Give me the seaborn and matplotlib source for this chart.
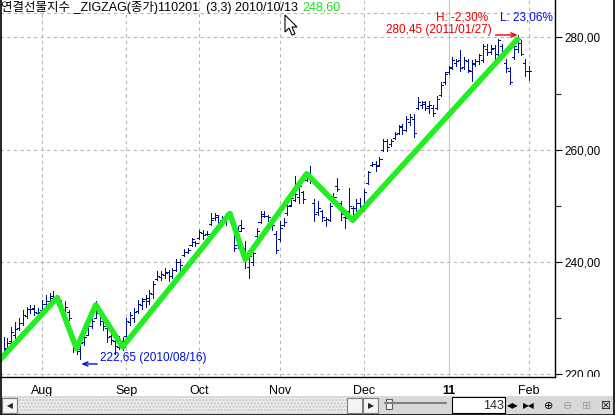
import numpy as np
import pandas as pd
import seaborn as sns
import matplotlib.pyplot as plt
from matplotlib.patches import Rectangle, Polygon
from matplotlib.lines import Line2D
from matplotlib.text import OffsetFrom
from matplotlib.transforms import Bbox, TransformedBbox, IdentityTransform

### daily OHLC bars (index 0 = 2010/07/19 ... 137 = 2011/02/01)
opens = [223.8, 224.6, 225.9, 227.0, 228.2, 229.0, 230.4, 231.6, 231.8, 230.8,
         231.4, 232.4, 233.0, 233.8, 232.8, 232.8, 231.3, 231.0, 226.0, 224.6,
         224.0, 225.6, 227.0, 228.6, 230.0, 230.8, 229.4, 228.2, 226.8, 225.8,
         224.8, 225.8, 226.8, 229.2, 230.0, 231.2, 232.2, 233.4, 233.0, 234.2,
         237.0, 237.2, 237.6, 238.2, 237.4, 238.6, 240.0, 241.2, 241.8, 243.0,
         243.5, 244.2, 245.2, 245.0, 246.8, 247.8, 248.0, 247.4, 247.2, 247.8,
         247.0, 243.0, 246.5, 242.5, 239.0, 240.0, 244.5, 247.0, 248.2, 248.2,
         247.5, 245.0, 244.0, 246.5, 248.6, 250.2, 251.0, 251.5, 252.4, 254.6,
         255.5, 250.5, 248.8, 249.0, 247.5, 247.5, 250.8, 253.5, 250.5, 248.0,
         249.0, 249.5, 249.5, 250.5, 249.5, 254.0, 257.3, 257.5, 257.3, 260.0,
         261.5, 261.0, 262.0, 263.0, 264.2, 263.5, 265.0, 265.5, 267.5, 268.0,
         268.5, 267.8, 267.5, 267.5, 269.8, 272.0, 273.8, 274.6, 275.5, 276.0,
         274.8, 275.8, 274.0, 275.3, 275.8, 276.0, 278.0, 277.5, 278.2, 277.0,
         278.5, 275.5, 274.0, 276.5, 278.0, 279.0, 275.5, 274.0]
highs = [226.6, 226.3, 228.4, 229.3, 229.9, 231.4, 232.0, 232.3, 232.3, 231.7,
         233.2, 234.1, 234.4, 234.7, 234.1, 233.2, 232.9, 231.4, 226.3, 225.7,
         226.9, 227.2, 229.3, 230.5, 232.9, 231.1, 229.9, 228.7, 227.5, 226.3,
         226.8, 226.5, 229.9, 231.1, 231.7, 233.2, 233.5, 234.0, 235.0, 236.6,
         238.3, 238.3, 238.9, 238.6, 238.9, 240.4, 240.4, 242.2, 242.5, 244.3,
         243.7, 245.7, 245.7, 245.4, 248.7, 248.7, 248.4, 248.1, 248.7, 248.9,
         247.2, 246.3, 247.5, 243.7, 241.3, 241.9, 246.0, 249.0, 249.0, 248.4,
         247.8, 245.4, 247.2, 247.8, 250.2, 251.7, 255.3, 254.1, 252.6, 255.9,
         257.1, 251.1, 250.8, 249.3, 248.0, 250.5, 252.3, 255.0, 250.8, 248.4,
         253.2, 250.0, 251.1, 251.4, 252.9, 256.2, 257.7, 258.0, 258.6, 261.9,
         261.9, 261.9, 263.1, 264.3, 264.6, 266.0, 266.4, 266.3, 269.3, 268.7,
         268.7, 268.7, 267.9, 269.6, 272.0, 273.8, 275.0, 276.5, 276.2, 277.7,
         276.5, 276.2, 275.9, 276.2, 277.1, 278.9, 278.9, 278.6, 278.6, 279.8,
         278.9, 276.2, 274.7, 278.9, 280.45, 279.5, 276.2, 275.0]
lows = [223.3, 224.2, 225.7, 226.3, 227.8, 228.7, 229.9, 230.8, 230.5, 230.2,
        231.1, 232.0, 232.6, 232.6, 232.3, 231.1, 230.8, 229.6, 223.9, 223.6,
        222.65, 225.1, 226.9, 228.1, 229.9, 228.7, 227.8, 225.7, 225.4, 223.6,
        224.5, 224.2, 226.6, 228.7, 229.3, 230.8, 231.5, 232.0, 232.5, 233.5,
        236.8, 236.8, 237.1, 236.5, 237.1, 238.3, 238.3, 241.0, 241.6, 242.8,
        242.8, 244.0, 244.0, 244.7, 246.6, 247.5, 246.3, 247.2, 246.6, 247.0,
        241.9, 242.5, 245.5, 238.9, 237.1, 239.5, 244.3, 246.9, 247.9, 247.3,
        245.7, 241.6, 243.7, 246.3, 248.4, 249.9, 250.8, 250.5, 250.5, 254.4,
        254.1, 247.2, 248.4, 247.2, 246.3, 247.2, 250.5, 252.6, 247.5, 246.0,
        248.7, 247.0, 249.0, 249.0, 249.0, 253.8, 257.1, 256.2, 257.1, 259.8,
        259.8, 260.7, 261.9, 262.8, 262.8, 263.3, 264.3, 262.2, 267.3, 267.5,
        267.0, 266.5, 266.0, 267.3, 269.6, 271.7, 273.5, 274.4, 275.0, 274.1,
        274.4, 273.8, 272.3, 275.0, 275.3, 275.6, 276.8, 277.0, 276.2, 275.6,
        276.8, 273.8, 271.7, 276.2, 277.4, 276.8, 273.2, 272.5]
closes = [224.5, 225.5, 227.5, 228.0, 229.0, 230.5, 231.5, 231.5, 231.0, 231.0,
          232.5, 233.0, 233.5, 233.2, 233.6, 231.5, 232.0, 230.0, 224.8, 224.5,
          225.5, 226.5, 228.5, 229.5, 232.3, 229.5, 228.5, 226.5, 226.0, 225.0,
          225.5, 224.8, 229.5, 230.5, 231.0, 232.5, 233.0, 233.5, 234.5, 236.0,
          237.5, 237.8, 238.0, 237.5, 238.5, 240.0, 239.5, 241.8, 242.0, 244.0,
          243.3, 245.3, 244.8, 245.0, 247.5, 248.3, 247.0, 247.5, 248.2, 248.6,
          242.5, 245.5, 246.0, 240.4, 241.0, 241.5, 245.5, 248.5, 248.2, 248.0,
          246.5, 242.0, 246.0, 247.0, 250.0, 251.3, 252.0, 253.5, 251.2, 255.7,
          254.5, 248.5, 249.5, 248.0, 247.6, 250.0, 251.5, 253.0, 248.5, 247.8,
          250.0, 247.4, 250.5, 250.0, 252.5, 256.0, 257.5, 257.0, 258.3, 261.5,
          260.5, 261.5, 262.8, 264.0, 263.5, 265.5, 265.8, 263.0, 268.5, 268.2,
          267.5, 268.0, 266.5, 269.0, 271.5, 273.5, 274.8, 276.0, 275.8, 274.5,
          276.0, 274.2, 275.5, 275.8, 276.8, 278.5, 277.5, 278.0, 277.0, 279.5,
          277.5, 274.5, 272.0, 278.5, 279.7, 277.0, 274.0, 274.0]

month_pos = [10, 32, 51, 72, 94, 116, 137]
month_lbl = ['Aug', 'Sep', 'Oct', 'Nov', 'Dec', '11', 'Feb']

### zigzag (3,3) pivots on close
zz_pos = [-3, 14, 19, 24, 31, 59, 63, 79, 91, 134]
zz_val = [221.0, 233.6, 224.5, 232.3, 224.8, 248.6, 240.4, 255.7, 247.4, 279.7]

cursor_bar = 59
cursor_date = '2010/10/13'
low_date = '2010/08/16'
high_date = '2011/01/27'
visible_bars = 143

df = pd.DataFrame({'open': opens, 'high': highs, 'low': lows, 'close': closes})
idx = np.arange(len(df))

sns.set_style('white')
plt.rcParams['font.family'] = ['Liberation Sans', 'Noto Sans CJK KR', 'DejaVu Sans']

W, H = 615, 415
fig = plt.figure(figsize=(W / 100, H / 100), dpi=100)


def fx(x):
    return x / W


def fy(y):
    return 1 - y / H


def rect(x0, y0, x1, y1, **kw):
    fig.add_artist(Rectangle((fx(x0), fy(y1)), (x1 - x0) / W, (y1 - y0) / H,
                             transform=fig.transFigure, **kw))


ax = fig.add_axes([0, fy(377), fx(555), 377 / H])
ax.set_facecolor('white')

navy = '#00108c'
red = '#e80000'
blue = '#0010d8'
green = '#22ee22'
grid = '#b8b8b8'

for p, l in zip(month_pos, month_lbl):
    if l == '11':
        ax.axvline(p, color='#c8c8c8', lw=0.8, zorder=0)
    else:
        ax.axvline(p, color=grid, lw=0.8, ls=(0, (3, 3)), zorder=0)
for v in [220, 240, 260, 280]:
    ax.axhline(v, color=grid, lw=0.8, ls=(0, (3, 3)), zorder=0)
ax.plot([0, 1], [1 - 13 / 377] * 2, transform=ax.transAxes, color=grid,
        lw=0.8, ls=(0, (3, 3)), zorder=0)

# OHLC bars
ax.vlines(idx, df['low'], df['high'], color=navy, lw=0.72, antialiased=False, zorder=2)
ax.hlines(df['open'], idx - 0.55, idx, color=navy, lw=0.72, antialiased=False, zorder=2)
ax.hlines(df['close'], idx, idx + 0.55, color=navy, lw=0.72, antialiased=False, zorder=2)

sns.lineplot(x=zz_pos, y=zz_val, ax=ax, color=green, lw=4.0, zorder=5,
             solid_joinstyle='round', solid_capstyle='round')

ax.set_xlim(-0.95, 143.77)
ax.set_ylim(219.43, 286.69)

# axes / ticks
ax.yaxis.tick_right()
yt = [220, 240, 260, 280]
ax.set_yticks(yt, labels=[f'{v:.2f}'.replace('.', ',') for v in yt])
ax.set_yticks([230, 250, 270], minor=True)
ax.tick_params(axis='y', which='major', direction='out', length=5, width=0.8,
               pad=2, labelsize=8.5, colors='black')
ax.tick_params(axis='y', which='minor', direction='out', length=4, width=0.8)
ax.set_xticks(month_pos, labels=month_lbl)
ax.tick_params(axis='x', direction='out', length=3, width=0.8, pad=3,
               labelsize=9, colors='black')
for t in ax.get_xticklabels():
    if t.get_text() == '11':
        t.set_fontweight('bold')
ax.set_xlabel('')
ax.set_ylabel('')
for s in ['left', 'top']:
    ax.spines[s].set_visible(False)
for s in ['right', 'bottom']:
    ax.spines[s].set_color('black')
    ax.spines[s].set_linewidth(1.0)

clip = TransformedBbox(Bbox.from_extents(0, H - 377, W, H), IdentityTransform())
for t in ax.get_yticklabels():
    t.set_clip_box(clip)
    t.set_clip_on(True)

# high / low markers
last = df['close'].iloc[-1]
ih = int(df['high'].idxmax())
hi = df['high'].max()
il = int(df['low'].idxmin())
lo = df['low'].min()

ax.annotate('', xy=(ih, hi), xytext=(-22, 0), textcoords='offset pixels',
            arrowprops=dict(arrowstyle='->,head_length=0.35,head_width=0.15',
                            color=red, lw=1.0, shrinkA=0, shrinkB=0))
ax.annotate(f'{hi:.2f} ({high_date})'.replace('.', ','), xy=(ih, hi),
            xytext=(-26, 5), textcoords='offset pixels', ha='right', va='center',
            color=red, fontsize=8.5)
ax.annotate('', xy=(1, -5), xycoords=OffsetFrom(ax.transData, (il, lo), 'pixels'),
            xytext=(16, 0), textcoords='offset pixels',
            arrowprops=dict(arrowstyle='->,head_length=0.35,head_width=0.15',
                            color=blue, lw=1.0, shrinkA=0, shrinkB=0))
ax.annotate(f'{lo:.2f} ({low_date})'.replace('.', ','), xy=(il, lo),
            xytext=(20, 1), textcoords='offset pixels', ha='left', va='center',
            color=blue, fontsize=8.5)

fig.text(fx(436), fy(17), f'H: {(last / hi - 1) * 100:.2f}%'.replace('.', ','),
         color=red, va='center', fontsize=8.5)
fig.text(fx(500), fy(17), f'L: {(last / lo - 1) * 100:.2f}%'.replace('.', ','),
         color=blue, va='center', fontsize=8.5)

# header
t1 = fig.text(fx(1), fy(7), f'연결선물지수 _ZIGZAG(종가)110201  (3,3) {cursor_date}',
              va='center', fontsize=9, color='black')
fig.canvas.draw()
bb = t1.get_window_extent()
fig.text(bb.x1 / W + fx(4), fy(7), f'{closes[cursor_bar]:.2f}'.replace('.', ','),
         va='center', fontsize=9, color='#18e018')

# mouse cursor
cur = [(285, 15), (285, 32), (289, 28), (292, 35), (295, 34), (292, 27), (297, 27)]
fig.add_artist(Polygon([(fx(x), fy(y)) for x, y in cur], closed=True,
                       transform=fig.transFigure, fc='white', ec='black', lw=0.8))

# scroll bar
rect(1, 396, 613, 414, fc='#d8d8d8', ec='none')
rect(17, 398, 347, 413, fc='#ececec', ec='#c4c4c4', lw=0, hatch='.....')
rect(2, 398, 17, 413, fc='#f4f4f4', ec='#808080', lw=0.8)
fig.text(fx(9.5), fy(405.5), '◀', ha='center', va='center', fontsize=5.5,
         family=['DejaVu Sans'])
rect(347, 398, 362, 413, fc='#f4f4f4', ec='#808080', lw=0.8)
rect(363, 398, 378, 413, fc='#f4f4f4', ec='#808080', lw=0.8)
fig.text(fx(370.5), fy(405.5), '▶', ha='center', va='center', fontsize=5.5,
         family=['DejaVu Sans'])
fig.add_artist(Line2D([fx(385), fx(446)], [fy(403), fy(403)], color='#808080',
                      lw=1.5, transform=fig.transFigure))
rect(386, 399, 392, 409, fc='#f4f4f4', ec='#606060', lw=0.8)
rect(452, 397, 505, 413, fc='white', ec='black', lw=0.8)
fig.text(fx(504), fy(405.5), str(visible_bars), ha='right', va='center', fontsize=9)
icons = [(513, '◀▶', 'black'), (529, '▶◀', 'black'), (549, '⊕', 'black'),
         (568, '⊖', '#a0a0a0'), (587, '⊞', '#a0a0a0'), (605, '☒', 'black')]
for x, s, c in icons:
    fig.text(fx(x), fy(405.5), s, ha='center', va='center', fontsize=8 if len(s) == 1 else 5.5,
             color=c, family=['DejaVu Sans'])

# window border
for xs, ys in [([0.5, 0.5], [0, H]), ([613.5, 613.5], [0, H]), ([0, W], [414.5, 414.5])]:
    fig.add_artist(Line2D([fx(x) for x in xs], [fy(y) for y in ys], color='black',
                          lw=1.2, transform=fig.transFigure))

fig.savefig('out.png', dpi=100)
